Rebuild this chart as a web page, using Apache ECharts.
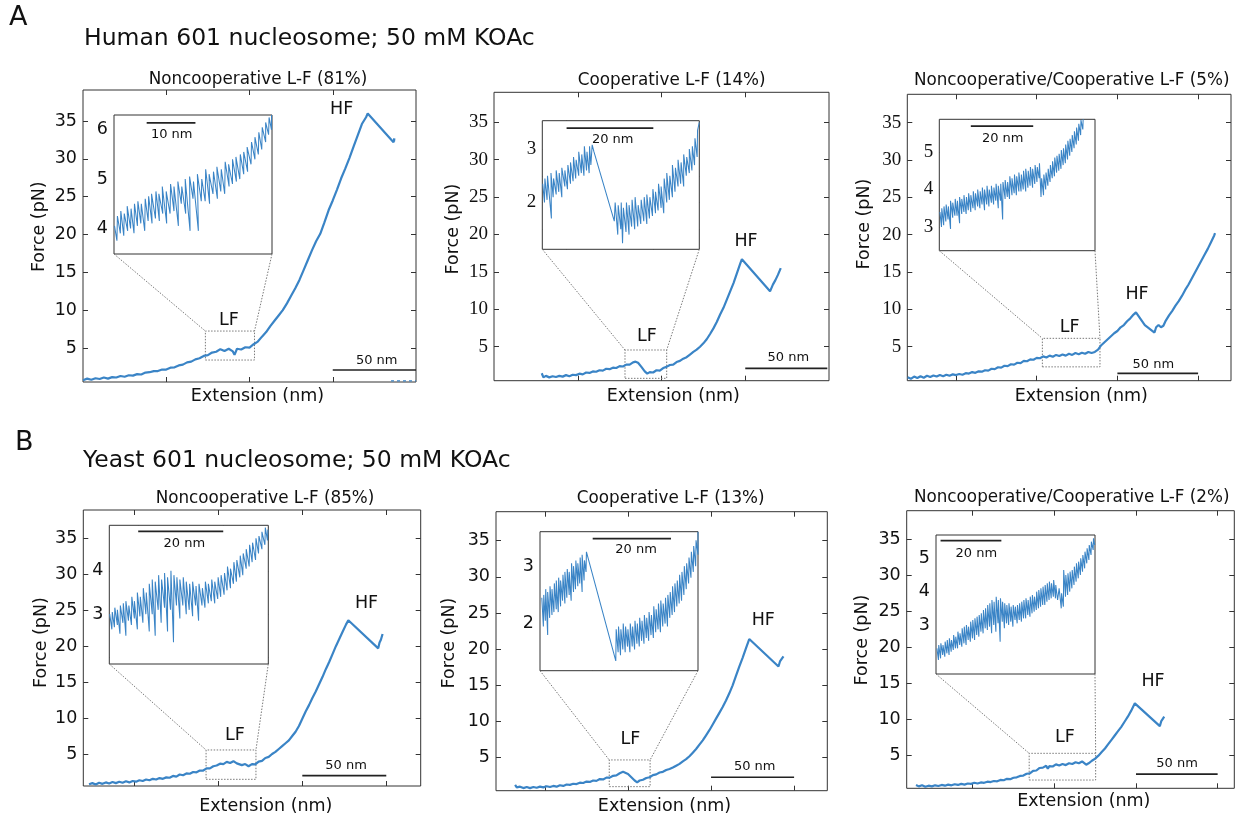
<!DOCTYPE html>
<html><head><meta charset="utf-8">
<script src="https://cdn.jsdelivr.net/npm/echarts@6/dist/echarts.min.js"></script>
<style>html,body{margin:0;padding:0;background:#fff}#c{width:1249px;height:818px}</style>
</head><body><div id="c"></div>
<script>
// ---------------- DATA ----------------
const headerA = 'Human 601 nucleosome; 50 mM KOAc';
const headerB = 'Yeast 601 nucleosome; 50 mM KOAc';
const panelTitles = ['Noncooperative L-F (81%)','Cooperative L-F (14%)','Noncooperative/Cooperative L-F (5%)',
                     'Noncooperative L-F (85%)','Cooperative L-F (13%)','Noncooperative/Cooperative L-F (2%)'];
const mainYTicks = [5,10,15,20,25,30,35];
const mainXTicksA = [50,100,150];
const mainXTicksB = [0,50,100,150];

// main traces [extension nm, force pN]
const traceA1 = [[0,0.75],[2.5,0.95],[5,0.8],[7.5,1.0],[10,0.9],[12.5,1.1],[15,0.95],[17.5,1.15],[20,1.1],[22.5,1.3],[25,1.2],[27.5,1.4],[30,1.35],[32.5,1.55],[35,1.5],[37.5,1.75],[40,1.8],[42.5,1.95],[45,1.95],[47.5,2.15],[50,2.15],[52.5,2.4],[55,2.45],[57.5,2.7],[60,2.8],[62.5,3.1],[65,3.2],[67.5,3.5],[70,3.65],[72.5,3.95],[75,4.05],[77.5,4.4],[80,4.5],[82.5,4.85],[85,4.6],[87.5,4.9],[90,4.55],[91,4.1],[92.5,4.9],[95,4.8],[97.5,5.1],[100,5.05],[102.5,5.5],[105,5.85],[107.5,6.5],[110,7.1],[112.5,7.9],[115,8.6],[117.5,9.3],[120,10.0],[122.5,10.9],[125,11.9],[127.5,12.9],[130,14.0],[132.5,15.3],[135,16.6],[137.5,17.9],[140,19.1],[142.5,20.1],[145,21.6],[147.5,23.2],[150,24.5],[152.5,25.9],[155,27.4],[157.5,28.7],[160,30.1],[162.5,31.6],[165,33.1],[167.5,34.6],[170,35.5],[171,36.0],[186.5,32.2],[187,32.7],[186.8,32.3]];
const tailA1 = [[185,0.65],[200,0.65]];
const traceA2 = [[28.5,1.45],[29.5,0.9],[31,1.1],[33,0.9],[35,1.05],[37,0.95],[39,1.1],[41,1.0],[43,1.2],[45,1.05],[47,1.25],[49,1.2],[51,1.4],[53,1.3],[55,1.55],[57,1.5],[59,1.7],[61,1.65],[63,1.85],[65,1.8],[67,2.05],[69,2.0],[71,2.2],[73,2.15],[75,2.4],[77,2.35],[79,2.6],[81,2.6],[83,2.9],[84.5,3.0],[86,2.85],[88,2.3],[90,1.7],[91.5,1.4],[93,1.6],[95,1.55],[97,1.85],[99,1.8],[101,2.15],[103,2.3],[105,2.55],[107,2.6],[109,2.95],[111,3.1],[113,3.4],[115,3.6],[117,3.95],[119,4.3],[121,4.6],[123,5.0],[125,5.45],[127,6.0],[129,6.7],[131,7.45],[133,8.3],[135,9.3],[137,10.2],[139,11.3],[141,12.4],[143,13.5],[145,14.8],[147,16.1],[148,16.7],[164.8,12.4],[166.5,13.3],[168,13.9],[169.5,14.6],[171.2,15.5]];
const traceA3 = [[-30,0.9],[-28,0.7],[-26,1.0],[-24,0.8],[-22,1.05],[-20,0.85],[-18,1.1],[-16,0.95],[-14,1.15],[-12,1.0],[-10,1.2],[-8,1.05],[-6,1.25],[-4,1.1],[-2,1.3],[0,1.2],[2,1.35],[4,1.25],[6,1.45],[8,1.4],[10,1.6],[12,1.5],[14,1.7],[16,1.65],[18,1.85],[20,1.8],[22,2.05],[24,2.0],[26,2.25],[28,2.2],[30,2.45],[32,2.4],[34,2.65],[36,2.6],[38,2.85],[40,2.8],[42,3.1],[44,3.05],[46,3.3],[48,3.25],[50,3.5],[52,3.45],[54,3.7],[56,3.55],[58,3.8],[60,3.65],[62,3.9],[64,3.75],[66,3.95],[68,3.8],[70,4.05],[72,3.9],[74,4.15],[76,4.0],[78,4.2],[80,4.05],[82,4.3],[84,4.15],[86,4.3],[87,4.1],[88,4.6],[90,5.2],[92,5.6],[94,6.0],[96,6.4],[98,6.8],[100,7.1],[102,7.6],[104,7.9],[106,8.4],[108,8.8],[110,9.3],[111.5,9.6],[117,7.9],[123,6.9],[124,7.6],[125.5,7.9],[127,7.6],[128.5,7.8],[130,8.5],[132,9.2],[134,9.8],[136,10.5],[138,11.1],[140,11.8],[142,12.6],[144,13.3],[146,14.1],[148,14.9],[150,15.7],[152,16.5],[154,17.3],[156,18.1],[158,19.0],[160,19.9],[160.5,20.2]];
const traceB1 = [[-27,0.8],[-25,0.95],[-23,0.75],[-21,1.0],[-19,0.85],[-17,1.05],[-15,0.9],[-13,1.1],[-11,0.95],[-9,1.15],[-7,1.0],[-5,1.2],[-3,1.05],[-1,1.25],[1,1.15],[3,1.35],[5,1.25],[7,1.45],[9,1.35],[11,1.55],[13,1.45],[15,1.65],[17,1.55],[19,1.75],[21,1.7],[23,1.95],[25,1.85],[27,2.15],[29,2.05],[31,2.3],[33,2.25],[35,2.5],[37,2.45],[39,2.7],[41,2.7],[43,3.0],[45,3.0],[47,3.3],[49,3.4],[51,3.65],[53,3.6],[55,3.9],[57,3.75],[59,4.0],[61,3.7],[62,3.9],[64,3.45],[66,3.6],[68,3.3],[70,3.6],[72,3.55],[74,3.95],[76,4.05],[78,4.45],[80,4.6],[82,5.0],[84,5.3],[86,5.7],[88,6.1],[90,6.5],[92,6.9],[94,7.5],[96,8.1],[98,8.9],[100,9.9],[102,10.9],[104,11.8],[106,12.8],[108,13.7],[110,14.7],[112,15.7],[114,16.8],[116,17.8],[118,18.9],[120,20.0],[122,21.0],[124,22.0],[126,23.0],[127.4,23.6],[145.2,19.7],[146,20.5],[146.8,20.9],[147.8,21.7]];
const traceB2 = [[-18,1.25],[-17,0.9],[-15,1.0],[-13,0.8],[-11,0.95],[-9,0.8],[-7,0.95],[-5,0.85],[-3,1.0],[-1,0.9],[1,1.05],[3,0.95],[5,1.1],[7,1.0],[9,1.2],[11,1.1],[13,1.3],[15,1.25],[17,1.4],[19,1.35],[21,1.55],[23,1.5],[25,1.7],[27,1.65],[29,1.85],[31,1.8],[33,2.05],[35,2.0],[37,2.25],[39,2.25],[41,2.5],[43,2.55],[45,2.85],[47,3.05],[48,3.2],[50,2.75],[52,2.3],[54,1.85],[55.5,1.6],[57,1.85],[59,1.95],[61,2.2],[63,2.3],[65,2.6],[67,2.7],[69,2.95],[71,3.05],[73,3.3],[75,3.45],[77,3.65],[79,3.9],[81,4.15],[83,4.5],[85,4.8],[87,5.2],[89,5.7],[91,6.2],[93,6.8],[95,7.4],[97,8.1],[99,8.8],[101,9.6],[103,10.4],[105,11.2],[107,12.0],[109,12.9],[111,13.9],[113,15.0],[115,16.3],[117,17.6],[119,18.8],[121,20.1],[123,21.4],[140.6,17.6],[141.5,18.3],[142.3,18.1],[143.6,19.0]];
const traceB3 = [[-34.7,0.95],[-33,0.75],[-31,0.9],[-29,0.7],[-27,0.85],[-25,0.75],[-23,0.9],[-21,0.8],[-19,0.95],[-17,0.85],[-15,1.0],[-13,0.9],[-11,1.05],[-9,0.95],[-7,1.1],[-5,1.0],[-3,1.15],[-1,1.1],[1,1.25],[3,1.15],[5,1.3],[7,1.25],[9,1.4],[11,1.35],[13,1.5],[15,1.45],[17,1.65],[19,1.6],[21,1.8],[23,1.75],[25,1.95],[27,2.0],[29,2.2],[31,2.25],[33,2.5],[35,2.55],[37,2.9],[39,2.95],[41,3.3],[43,3.35],[45,3.6],[46,3.2],[47,3.55],[49,3.5],[51,3.8],[53,3.65],[55,3.85],[57,3.7],[59,3.95],[61,3.85],[63,4.1],[65,3.95],[67,4.2],[68,4.25],[69.5,3.75],[71,3.95],[73,4.3],[75,4.6],[77,5.0],[79,5.5],[81,6.0],[83,6.6],[85,7.2],[87,7.8],[89,8.4],[91,9.0],[93,9.7],[95,10.4],[97,11.2],[99.3,12.25],[114.6,9.1],[115.5,9.8],[116.3,9.6],[117.3,10.4]];

// inset traces [extension nm, force pN]
const insetA1 = [[3.4,4.05],[3.9,3.75],[4.0,4.25],[4.6,3.9],[4.7,4.35],[5.3,3.85],[5.4,4.3],[6.1,3.95],[6.0,4.45],[6.7,4.0],[6.8,4.4],[7.4,3.9],[7.5,4.5],[8.1,4.05],[8.2,4.55],[8.8,4.1],[8.9,4.5],[9.6,3.95],[9.7,4.6],[10.3,4.15],[10.4,4.65],[11.1,4.1],[11.0,4.7],[11.8,4.2],[11.9,4.75],[12.6,4.15],[12.5,4.7],[13.3,4.3],[13.2,4.85],[14.1,4.1],[14.0,4.75],[14.8,4.3],[14.9,4.9],[15.6,4.35],[15.6,4.85],[16.5,4.05],[16.4,4.95],[17.1,4.5],[17.2,4.85],[18.0,4.3],[17.9,5.0],[18.9,3.95],[18.8,5.05],[19.5,4.6],[19.6,4.95],[20.6,3.95],[20.4,5.1],[21.2,4.55],[21.3,5.0],[22.0,4.55],[22.1,5.2],[22.9,4.5],[22.8,5.1],[23.6,4.7],[23.7,5.15],[24.5,4.6],[24.4,5.25],[25.2,4.75],[25.3,5.2],[26.0,4.7],[26.1,5.35],[26.9,4.85],[26.8,5.3],[27.6,4.9],[27.6,5.4],[28.4,4.95],[28.3,5.45],[29.1,5.0],[29.2,5.5],[29.9,5.1],[29.9,5.55],[30.7,5.15],[30.6,5.65],[31.4,5.3],[31.5,5.75],[32.2,5.4],[32.2,5.85],[32.9,5.5],[33.0,5.95],[33.6,5.6],[33.7,6.05],[34.4,5.75],[34.4,6.15],[35.0,5.9],[35.1,6.25],[35.6,6.0],[35.6,6.3]];
const insetA2 = [[14.5,2.35],[14.9,2.0],[15.0,2.45],[15.5,2.05],[15.6,2.5],[16.5,1.7],[16.4,2.55],[16.9,2.1],[17.0,2.45],[17.6,2.15],[17.6,2.6],[18.2,2.2],[18.3,2.55],[18.9,2.1],[18.9,2.65],[19.6,2.3],[19.6,2.6],[20.2,2.25],[20.3,2.7],[20.9,2.35],[20.9,2.75],[21.5,2.4],[21.6,2.85],[22.1,2.45],[22.2,2.8],[22.8,2.5],[22.8,2.95],[23.4,2.55],[23.5,2.9],[24.0,2.5],[24.1,3.05],[24.6,2.6],[24.7,2.95],[25.2,2.55],[25.3,3.05],[25.6,2.7],[25.9,3.08],[26.3,2.95],[31.0,1.65],[31.2,2.0],[31.8,1.4],[31.9,1.95],[32.5,1.5],[32.6,2.0],[32.9,1.24],[33.1,1.9],[33.7,1.45],[33.8,2.0],[34.4,1.4],[34.4,1.95],[35.0,1.55],[35.1,2.05],[35.7,1.5],[35.8,2.1],[36.4,1.55],[36.5,1.95],[37.1,1.6],[37.2,2.05],[37.8,1.65],[37.9,2.1],[38.5,1.6],[38.5,2.15],[39.1,1.7],[39.2,2.1],[39.8,1.75],[39.9,2.25],[40.5,1.8],[40.5,2.2],[41.1,1.85],[41.2,2.35],[41.8,1.9],[41.8,2.3],[42.4,1.8],[42.5,2.45],[43.1,2.0],[43.1,2.55],[43.7,2.05],[43.8,2.5],[44.4,2.1],[44.4,2.7],[45.0,2.2],[45.1,2.65],[45.7,2.3],[45.7,2.8],[46.3,2.35],[46.4,2.75],[47.0,2.3],[47.0,2.9],[47.6,2.5],[47.7,2.85],[48.3,2.55],[48.3,3.0],[48.9,2.6],[49.0,3.05],[49.5,2.7],[49.6,3.2],[50.1,2.85],[50.2,3.35],[50.6,3.5]];
const insetA3 = [[50.9,3.4],[51.4,3.0],[51.5,3.5],[52.1,3.05],[52.2,3.55],[52.8,3.15],[52.9,3.6],[53.5,3.2],[53.6,3.55],[54.3,2.95],[54.3,3.7],[55.0,3.25],[55.0,3.65],[55.7,3.3],[55.8,3.75],[56.4,3.3],[56.5,3.7],[57.2,3.1],[57.2,3.8],[57.9,3.35],[57.9,3.75],[58.6,3.4],[58.6,3.85],[59.3,3.35],[59.4,3.8],[60.0,3.45],[60.1,3.9],[60.8,3.4],[60.8,3.85],[61.5,3.5],[61.6,3.95],[62.2,3.45],[62.3,3.9],[63.0,3.55],[63.0,4.0],[63.7,3.5],[63.8,3.95],[64.4,3.6],[64.5,4.05],[65.2,3.45],[65.2,4.0],[65.9,3.6],[66.0,4.1],[66.6,3.55],[66.7,4.0],[67.4,3.65],[67.4,4.1],[68.1,3.6],[68.2,4.05],[68.8,3.7],[68.9,4.15],[69.6,3.5],[69.6,4.1],[70.3,3.7],[70.4,4.15],[71.0,3.2],[71.1,4.2],[71.8,3.75],[71.8,4.25],[72.5,3.8],[72.6,4.2],[73.2,3.75],[73.3,4.35],[74.0,3.85],[74.0,4.3],[74.7,3.9],[74.8,4.4],[75.4,3.85],[75.5,4.35],[76.2,3.95],[76.2,4.45],[76.9,3.95],[77.0,4.4],[77.6,4.0],[77.7,4.5],[78.4,3.95],[78.4,4.55],[79.1,4.05],[79.2,4.5],[79.8,4.1],[79.9,4.6],[80.6,4.05],[80.6,4.55],[81.3,4.15],[81.4,4.65],[82.0,4.2],[82.1,4.6],[82.7,4.3],[82.8,4.7],[83.3,3.8],[83.5,4.3],[84.1,3.85],[84.2,4.4],[84.8,4.0],[84.9,4.45],[85.5,4.1],[85.6,4.55],[86.2,4.2],[86.3,4.65],[86.9,4.3],[87.0,4.75],[87.6,4.35],[87.7,4.85],[88.3,4.45],[88.4,4.9],[89.0,4.5],[89.1,4.95],[89.7,4.55],[89.8,5.05],[90.4,4.65],[90.5,5.1],[91.1,4.7],[91.2,5.2],[91.8,4.8],[91.9,5.3],[92.5,4.9],[92.6,5.35],[93.2,5.0],[93.3,5.45],[93.9,5.1],[94.0,5.55],[94.6,5.2],[94.7,5.65],[95.3,5.3],[95.4,5.75],[96.0,5.45],[96.1,5.85],[96.7,5.6],[96.8,5.87]];
const insetB1 = [[13.3,3.0],[13.8,2.65],[13.9,3.05],[14.4,2.7],[14.5,3.15],[15.1,2.75],[15.1,3.1],[15.7,2.55],[15.8,3.2],[16.4,2.8],[16.5,3.25],[17.1,2.5],[17.1,3.3],[17.7,2.85],[17.8,3.2],[18.4,2.75],[18.5,3.4],[19.1,2.9],[19.1,3.3],[19.8,2.65],[19.8,3.5],[20.4,2.95],[20.5,3.4],[21.1,2.8],[21.2,3.6],[21.8,3.0],[21.9,3.5],[22.6,2.6],[22.6,3.7],[23.3,3.0],[23.3,3.8],[24.0,2.5],[24.0,3.75],[24.7,3.1],[24.8,3.9],[25.4,2.8],[25.5,3.8],[26.2,3.15],[26.2,3.95],[26.9,2.6],[26.9,3.85],[27.6,3.1],[27.7,4.0],[28.3,2.35],[28.4,3.9],[29.0,3.2],[29.1,3.85],[29.8,2.9],[29.8,3.8],[30.5,3.2],[30.6,3.85],[31.3,3.0],[31.3,3.75],[32.0,3.1],[32.1,3.7],[32.8,2.95],[32.8,3.75],[33.5,3.2],[33.6,3.65],[34.2,2.85],[34.3,3.7],[35.0,3.2],[35.1,3.6],[35.7,3.15],[35.8,3.75],[36.5,3.25],[36.5,3.7],[37.2,3.3],[37.3,3.8],[38.0,3.25],[38.0,3.75],[38.7,3.35],[38.8,3.85],[39.4,3.4],[39.5,3.9],[40.2,3.45],[40.3,3.95],[40.9,3.55],[41.0,4.1],[41.7,3.6],[41.7,4.05],[42.4,3.7],[42.5,4.2],[43.1,3.75],[43.2,4.25],[43.9,3.85],[44.0,4.35],[44.6,3.9],[44.7,4.4],[45.4,4.05],[45.4,4.5],[46.1,4.1],[46.2,4.6],[46.8,4.2],[46.9,4.65],[47.6,4.25],[47.7,4.75],[48.3,4.4],[48.4,4.8],[49.1,4.5],[49.1,4.9],[49.8,4.6],[49.9,5.0],[50.4,4.7],[50.5,4.95]];
const insetB2 = [[7.0,2.45],[7.4,1.95],[7.5,2.5],[7.9,2.05],[8.0,2.6],[8.5,1.8],[8.5,2.55],[9.0,2.1],[9.1,2.65],[9.6,2.15],[9.6,2.6],[10.1,2.2],[10.2,2.7],[10.7,2.25],[10.7,2.75],[11.2,2.2],[11.3,2.8],[11.8,2.3],[11.8,2.75],[12.3,2.4],[12.4,2.85],[12.9,2.35],[12.9,2.9],[13.4,2.45],[13.5,2.95],[14.0,2.5],[14.0,2.9],[14.5,2.4],[14.6,3.05],[15.1,2.55],[15.1,3.0],[15.6,2.6],[15.7,3.1],[16.2,2.65],[16.2,3.05],[16.7,2.7],[16.8,3.15],[17.3,2.55],[17.3,3.2],[17.8,2.75],[17.9,3.1],[18.3,2.9],[18.4,3.25],[25.9,1.35],[26.0,1.9],[26.5,1.5],[26.6,1.95],[27.1,1.45],[27.2,1.9],[27.7,1.55],[27.8,2.0],[28.3,1.5],[28.4,1.95],[28.9,1.6],[29.0,1.9],[29.5,1.5],[29.6,2.0],[30.1,1.6],[30.2,1.95],[30.7,1.55],[30.8,2.05],[31.3,1.65],[31.4,2.0],[31.9,1.6],[32.0,2.1],[32.5,1.7],[32.6,2.05],[33.1,1.65],[33.2,2.15],[33.7,1.75],[33.8,2.1],[34.3,1.7],[34.4,2.2],[34.9,1.8],[35.0,2.15],[35.5,1.75],[35.6,2.3],[36.1,1.85],[36.2,2.25],[36.7,1.9],[36.8,2.35],[37.3,1.85],[37.4,2.4],[37.9,1.95],[38.0,2.35],[38.5,2.0],[38.6,2.45],[39.1,1.95],[39.2,2.5],[39.7,2.1],[39.8,2.55],[40.3,2.15],[40.4,2.65],[40.9,2.2],[41.0,2.7],[41.5,2.3],[41.6,2.75],[42.1,2.35],[42.2,2.85],[42.7,2.4],[42.8,2.9],[43.3,2.5],[43.4,3.0],[43.9,2.6],[44.0,3.05],[44.5,2.7],[44.6,3.15],[45.1,2.8],[45.2,3.25],[45.7,2.9],[45.8,3.35],[46.3,3.0],[46.4,3.45],[46.9,3.2],[46.9,3.6]];
const insetB3 = [[18.0,2.3],[18.5,1.95],[18.6,2.4],[19.2,2.0],[19.3,2.45],[19.9,2.1],[20.0,2.4],[20.6,2.05],[20.7,2.5],[21.3,2.15],[21.4,2.55],[22.0,2.1],[22.1,2.6],[22.7,2.2],[22.8,2.55],[23.4,2.25],[23.5,2.7],[24.1,2.3],[24.2,2.65],[24.8,2.3],[24.9,2.8],[25.5,2.4],[25.6,2.75],[26.2,2.35],[26.3,2.9],[26.9,2.45],[27.0,2.95],[27.6,2.4],[27.7,3.0],[28.3,2.55],[28.4,2.95],[29.0,2.5],[29.1,3.1],[29.7,2.6],[29.8,3.15],[30.4,2.55],[30.5,3.2],[31.1,2.7],[31.2,3.25],[31.8,2.65],[31.9,3.3],[32.5,2.8],[32.6,3.35],[33.2,2.75],[33.3,3.45],[33.9,2.9],[34.0,3.5],[34.6,2.85],[34.7,3.6],[35.3,2.95],[35.4,3.65],[36.0,2.75],[36.1,3.75],[36.7,3.0],[36.8,3.7],[37.4,2.8],[37.5,3.85],[38.1,3.05],[38.2,3.75],[38.8,2.5],[38.9,3.8],[39.5,3.1],[39.6,3.7],[40.2,2.9],[40.3,3.65],[40.9,3.05],[41.0,3.6],[41.6,3.0],[41.7,3.65],[42.3,3.1],[42.4,3.55],[43.0,2.95],[43.1,3.6],[43.7,3.15],[43.8,3.55],[44.4,3.05],[44.5,3.6],[45.1,3.15],[45.2,3.65],[45.8,3.1],[45.9,3.7],[46.5,3.2],[46.6,3.75],[47.2,3.2],[47.3,3.8],[47.9,3.3],[48.0,3.75],[48.6,3.25],[48.7,3.85],[49.3,3.35],[49.4,3.9],[50.0,3.4],[50.1,3.85],[50.7,3.45],[50.8,4.0],[51.4,3.5],[51.5,4.05],[52.1,3.55],[52.2,4.1],[52.8,3.6],[52.9,4.15],[53.5,3.6],[53.6,4.2],[54.2,3.7],[54.3,4.25],[54.9,3.75],[55.0,4.3],[55.6,3.8],[55.7,4.25],[56.3,3.85],[56.4,4.35],[57.0,3.8],[57.1,4.2],[57.7,3.75],[58.2,4.1],[58.9,3.5],[59.0,3.95],[59.6,3.55],[59.7,4.65],[60.3,3.85],[60.4,4.5],[61.0,3.9],[61.1,4.55],[61.7,4.0],[61.8,4.6],[62.4,4.1],[62.5,4.65],[63.1,4.2],[63.2,4.75],[63.8,4.3],[63.9,4.85],[64.5,4.4],[64.6,4.9],[65.2,4.5],[65.3,5.0],[65.9,4.6],[66.0,5.1],[66.6,4.7],[66.7,5.2],[67.3,4.85],[67.4,5.3],[68.0,4.95],[68.1,5.4],[68.7,5.1],[68.8,5.5],[69.4,5.25],[69.5,5.6],[69.9,5.4]];

// zoomed LF windows [xMin, xMax, fMin, fMax] in main-axis units
const lfBoxA1 = [73.5,103,3.41,7.24];
const lfBoxA2 = [78.2,103.1,0.77,4.56];
const lfBoxA3 = [53.5,89.2,2.3,6.12];
const lfBoxB1 = [42.7,72.4,1.48,5.56];
const lfBoxB2 = [38.7,63.3,1.0,4.69];
const lfBoxB3 = [34.6,75.3,1.63,5.33];

// inset tick values
const insetXTicksA1 = [10,20,30], insetYTicksA1 = [4,5,6], insetYLabelsA1 = [4,5,6];
const insetXTicksA2 = [20,40], insetYTicksA2 = [1.5,2,2.5,3,3.5], insetYLabelsA2 = [2,3];
const insetXTicksA3 = [60,80,100], insetYTicksA3 = [3,4,5], insetYLabelsA3 = [3,4,5];
const insetXTicksB1 = [20,40], insetYTicksB1 = [2,3,4,5], insetYLabelsB1 = [3,4];
const insetXTicksB2 = [20,40], insetYTicksB2 = [1.5,2,2.5,3,3.5], insetYLabelsB2 = [2,3];
const insetXTicksB3 = [20,40,60], insetYTicksB3 = [2,3,4,5], insetYLabelsB3 = [3,4,5];

// ---------------- LAYOUT ----------------
const SANS = '"DejaVu Sans", sans-serif', SERIF = '"Liberation Serif", "DejaVu Serif", serif';
const BLUE = '#3a84c6', INK = '#111', FRAME = '#333', DOT = '#7a7a7a';

const panels = [
 {title:panelTitles[0], trace:traceA1, extra:tailA1, inset:insetA1, font:SANS, fs:17.5,
  grid:[83,90,333,292], xr:[0,200], yr:[0.507,39.1], xt:mainXTicksA, box:lfBoxA1, bar:[150,200,2.09],
  ig:[114,115,158,139], ixr:[3.3,35.7], iyr:[3.48,6.3], ixt:insetXTicksA1, iyt:insetYTicksA1, iyl:insetYLabelsA1, ibar:[10,20,6.14], ibarText:'10 nm',
  tp:[258,80], yl:[39,226.7], xl:[257.5,396.5], hf:[341.7,109], lf:[229,320], bl:[376.7,360.8], ibl:[171.7,135]},
 {title:panelTitles[1], trace:traceA2, inset:insetA2, font:SERIF, fs:19,
  grid:[494,92.3,335,288.4], xr:[0,200], yr:[0.455,39.01], xt:mainXTicksA, box:lfBoxA2, bar:[150,199,2.11],
  ig:[542.3,120.7,157,128.6], ixr:[14.4,50.6], iyr:[1.125,3.53], ixt:insetXTicksA2, iyt:insetYTicksA2, iyl:insetYLabelsA2, ibar:[20,40,3.39], ibarText:'20 nm',
  tp:[671.7,80.7], yl:[453,229], xl:[673.3,396.7], hf:[746,241.7], lf:[647,336.3], bl:[788.3,358], ibl:[612.7,139.3]},
 {title:panelTitles[2], trace:traceA3, inset:insetA3, font:SERIF, fs:19,
  grid:[907.3,94.3,323.7,286.4], xr:[-30.2,170.4], yr:[0.447,38.8], xt:mainXTicksB, box:lfBoxA3, bar:[100,150,1.43],
  ig:[939.3,119.3,155.7,131.4], ixr:[50.7,100.6], iyr:[2.37,5.87], ixt:insetXTicksA3, iyt:insetYTicksA3, iyl:insetYLabelsA3, ibar:[60.8,80.8,5.69], ibarText:'20 nm',
  tp:[1071.7,80.7], yl:[864,224], xl:[1081.3,396.7], hf:[1137,294], lf:[1069.7,327], bl:[1153.3,364.7], ibl:[1002.7,138.3]},
 {title:panelTitles[3], trace:traceB1, inset:insetB1, font:SANS, fs:17.5,
  grid:[83.3,510,337.4,276], xr:[-30.4,170.5], yr:[0.55,38.94], xt:mainXTicksB, box:lfBoxB1, bar:[100,150,1.98],
  ig:[109.3,525.3,159,138.7], ixr:[13.2,50.6], iyr:[1.85,5.05], ixt:insetXTicksB1, iyt:insetYTicksB1, iyl:insetYLabelsB1, ibar:[20,40,4.91], ibarText:'20 nm',
  tp:[265,498.3], yl:[41,642.5], xl:[265.8,806.7], hf:[366.5,603], lf:[235,735], bl:[346,765.3], ibl:[184.3,543.3]},
 {title:panelTitles[4], trace:traceB2, inset:insetB2, font:SANS, fs:17.5,
  grid:[496,511.7,331.3,279], xr:[-29.5,170], yr:[0.44,39.0], xt:mainXTicksB, box:lfBoxB2, bar:[100,150,2.3],
  ig:[540,531.7,158,139], ixr:[6.54,46.9], iyr:[1.18,3.6], ixt:insetXTicksB2, iyt:insetYTicksB2, iyl:insetYLabelsB2, ibar:[20,40,3.48], ibarText:'20 nm',
  tp:[670.7,498.3], yl:[449,643], xl:[664.5,806.5], hf:[763.3,620], lf:[630.5,739], bl:[754.7,767], ibl:[636,550]},
 {title:panelTitles[5], trace:traceB3, inset:insetB3, font:SANS, fs:17.5,
  grid:[906.7,510.7,327.6,277.6], xr:[-40.4,160.2], yr:[0.486,38.92], xt:mainXTicksB, box:lfBoxB3, bar:[100,150,2.46],
  ig:[936,535,159,139], ixr:[17.7,70.0], iyr:[1.53,5.7], ixt:insetXTicksB3, iyt:insetYTicksB3, iyl:insetYLabelsB3, ibar:[19.2,39.2,5.53], ibarText:'20 nm',
  tp:[1071.7,498], yl:[862,640], xl:[1083.8,801.7], hf:[1153,681.7], lf:[1065,737], bl:[1177,763.8], ibl:[976.3,553.3]}
];

const grids = [], xAxes = [], yAxes = [], series = [], graphics = [];

function addGrid(rect, xr, yr, xt, yt, yl, font, fs, tickLen, bg) {
  const gi = grids.length;
  grids.push({left:rect[0], top:rect[1], width:rect[2], height:rect[3], show:true,
    borderColor:FRAME, borderWidth:1, backgroundColor:bg, containLabel:false, z:bg==='#fff'?3:0});
  const xi = xAxes.length, yi = yAxes.length;
  ['bottom','top'].forEach(pos => xAxes.push({type:'value', gridIndex:gi, position:pos, min:xr[0], max:xr[1],
    axisLine:{show:false, onZero:false}, splitLine:{show:false}, axisLabel:{show:false},
    axisTick:{show:true, inside:true, length:tickLen, customValues:xt, lineStyle:{color:FRAME, width:1}}}));
  ['left','right'].forEach(pos => yAxes.push({type:'value', gridIndex:gi, position:pos, min:yr[0], max:yr[1],
    axisLine:{show:false, onZero:false}, splitLine:{show:false},
    axisLabel:{show:pos==='left', customValues:yl, margin:6, fontFamily:font, fontSize:fs, color:INK},
    axisTick:{show:true, inside:true, length:tickLen, customValues:yt, lineStyle:{color:FRAME, width:1}}}));
  return {gi, xi, yi};
}

function txt(x, y, text, size, family, rot) {
  const g = {type:'text', x:x, y:y, z:100, silent:true,
    style:{text:text, x:0, y:0, fill:INK, fontSize:size, fontFamily:family || SANS,
      textAlign:'center', align:'center', verticalAlign:'middle', textVerticalAlign:'middle'}};
  if (rot) g.rotation = rot;
  return g;
}

graphics.push({type:'text', x:9, y:17.5, z:100, style:{text:'A', fill:INK, fontSize:27, fontFamily:SANS, verticalAlign:'middle', textVerticalAlign:'middle'}});
graphics.push({type:'text', x:84, y:38.5, z:100, style:{text:headerA, fill:INK, fontSize:23.5, fontFamily:SANS, verticalAlign:'middle', textVerticalAlign:'middle'}});
graphics.push({type:'text', x:15, y:442.5, z:100, style:{text:'B', fill:INK, fontSize:27, fontFamily:SANS, verticalAlign:'middle', textVerticalAlign:'middle'}});
graphics.push({type:'text', x:83, y:461, z:100, style:{text:headerB, fill:INK, fontSize:23.5, fontFamily:SANS, verticalAlign:'middle', textVerticalAlign:'middle'}});

const links = [];
panels.forEach(p => {
  const m = addGrid(p.grid, p.xr, p.yr, p.xt, mainYTicks, mainYTicks, p.font, p.fs, 5, 'transparent');
  const s = addGrid(p.ig, p.ixr, p.iyr, p.ixt, p.iyt, p.iyl, p.font, p.fs, 4, '#fff');
  series.push({type:'line', xAxisIndex:m.xi, yAxisIndex:m.yi, data:p.trace, symbol:'none', clip:true, z:5,
    lineStyle:{color:BLUE, width:2.2}});
  if (p.extra) series.push({type:'line', xAxisIndex:m.xi, yAxisIndex:m.yi, data:p.extra, symbol:'none', z:5,
    lineStyle:{color:BLUE, width:1.2, type:[3,3]}});
  const b = p.box;
  series.push({type:'line', xAxisIndex:m.xi, yAxisIndex:m.yi, symbol:'none', z:4,
    data:[[b[0],b[2]],[b[1],b[2]],[b[1],b[3]],[b[0],b[3]],[b[0],b[2]]],
    lineStyle:{color:DOT, width:1, type:[1.5,1.5]}});
  series.push({type:'line', xAxisIndex:m.xi, yAxisIndex:m.yi, symbol:'none', z:5,
    data:[[p.bar[0],p.bar[2]],[p.bar[1],p.bar[2]]], lineStyle:{color:'#222', width:1.7}});
  series.push({type:'line', xAxisIndex:s.xi, yAxisIndex:s.yi, data:p.inset, symbol:'none', clip:true, z:6,
    lineStyle:{color:BLUE, width:1.05}});
  series.push({type:'line', xAxisIndex:s.xi, yAxisIndex:s.yi, symbol:'none', z:6,
    data:[[p.ibar[0],p.ibar[2]],[p.ibar[1],p.ibar[2]]], lineStyle:{color:'#222', width:1.7}});
  links.push({m, s, p});
  graphics.push(txt(p.tp[0], p.tp[1], p.title, 16.8, SANS));
  graphics.push(txt(p.yl[0], p.yl[1], 'Force (pN)', 17.5, SANS, Math.PI/2));
  graphics.push(txt(p.xl[0], p.xl[1], 'Extension (nm)', 17.5, SANS));
  graphics.push(txt(p.hf[0], p.hf[1], 'HF', 17.5, SANS));
  graphics.push(txt(p.lf[0], p.lf[1], 'LF', 17.5, SANS));
  graphics.push(txt(p.bl[0], p.bl[1], '50 nm', 13, SANS));
  graphics.push(txt(p.ibl[0], p.ibl[1], p.ibarText, 13, SANS));
});

const chart = echarts.init(document.getElementById('c'), null, {renderer:'canvas'});
chart.setOption({animation:false, backgroundColor:'#fff', grid:grids, xAxis:xAxes, yAxis:yAxes, series:series, graphic:graphics});

// connector lines between inset corners and LF window corners
const conn = [];
links.forEach(({m, s, p}) => {
  const b = p.box;
  const iBL = chart.convertToPixel({xAxisIndex:s.xi, yAxisIndex:s.yi}, [p.ixr[0], p.iyr[0]]);
  const iBR = chart.convertToPixel({xAxisIndex:s.xi, yAxisIndex:s.yi}, [p.ixr[1], p.iyr[0]]);
  const bTL = chart.convertToPixel({xAxisIndex:m.xi, yAxisIndex:m.yi}, [b[0], b[3]]);
  const bTR = chart.convertToPixel({xAxisIndex:m.xi, yAxisIndex:m.yi}, [b[1], b[3]]);
  [[iBL,bTL],[iBR,bTR]].forEach(([a,c]) => conn.push({type:'line', z:50, silent:true,
    shape:{x1:a[0], y1:a[1], x2:c[0], y2:c[1]}, style:{stroke:DOT, lineWidth:1, lineDash:[1.5,1.5]}}));
});
chart.setOption({graphic: graphics.concat(conn)}, {replaceMerge:['graphic']});
</script></body></html>
